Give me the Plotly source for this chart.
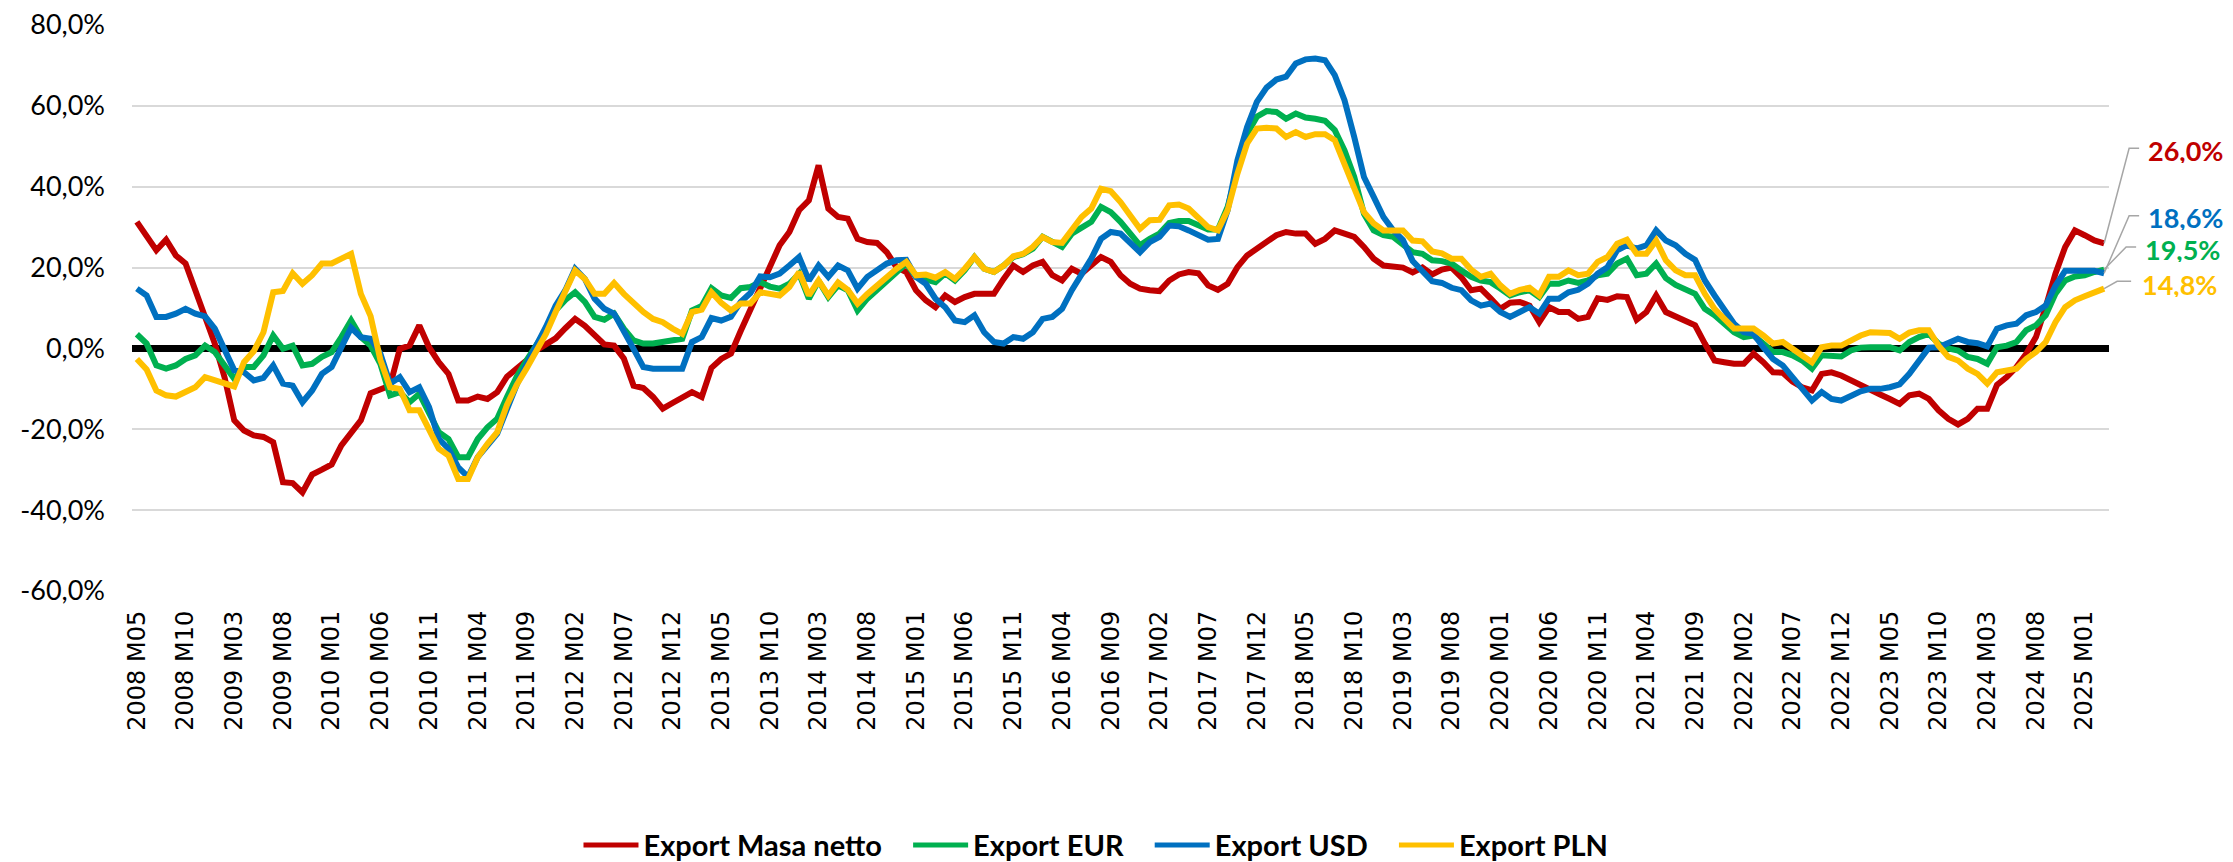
import plotly.graph_objects as go

# ---------------- data ----------------
start_year, start_month, n_points = 2008, 5, 203
categories = [f"{start_year + (start_month - 1 + i) // 12} M{(start_month - 1 + i) % 12 + 1:02d}"
              for i in range(n_points)]

masa_netto = [31.3, 27.8, 24.3, 26.9, 23.0, 21.0, 14.4, 8.2, 1.2, -7.1,
              -17.8, -20.3, -21.5, -21.9, -23.2, -33.1, -33.3, -35.6, -31.2, -30.0,
              -28.7, -24.0, -20.7, -17.8, -11.1, -10.0, -9.2, -0.1, 0.7, 5.7,
              0.3, -3.4, -6.3, -12.9, -12.9, -11.9, -12.5, -10.8, -7.0, -5.0,
              -3.0, -0.5, 1.2, 2.5, 5.0, 7.3, 5.6, 3.2, 1.0, 0.7,
              -2.5, -9.2, -9.8, -12.0, -14.9, -13.5, -12.0, -10.8, -12.0, -4.8,
              -2.6, -1.3, 4.3, 9.5, 14.8, 20.1, 25.5, 28.8, 34.2, 36.6,
              45.3, 34.6, 32.5, 32.1, 27.1, 26.3, 26.1, 23.8, 20.1, 18.9,
              14.4, 11.9, 10.2, 13.1, 11.5, 12.7, 13.5, 13.5, 13.5, 17.2,
              20.5, 18.9, 20.5, 21.4, 18.1, 16.8, 19.7, 18.5, 20.5, 22.6,
              21.4, 18.1, 16.0, 14.8, 14.4, 14.2, 16.8, 18.3, 18.9, 18.6,
              15.6, 14.5, 16.0, 20.1, 23.0, 24.7, 26.7, 28.0, 28.8, 28.4,
              28.4, 25.9, 27.1, 29.2, 28.4, 27.6, 25.1, 22.2, 20.5, 20.1,
              20.0, 18.8, 20.0, 18.3, 19.5, 20.0, 17.6, 14.4, 14.8, 12.4,
              9.8, 11.3, 11.5, 10.6, 6.5, 10.2, 9.0, 9.0, 7.3, 7.8,
              12.4, 12.0, 12.9, 12.7, 7.1, 9.0, 13.1, 9.0, 7.8, 6.5,
              5.7, 1.2, -3.0, -3.4, -3.8, -3.8, -1.3, -3.4, -5.9, -6.0,
              -8.2, -9.6, -10.4, -6.3, -5.9, -6.7, -7.9, -9.4, -10.4, -11.4,
              -12.5, -13.7, -11.6, -11.2, -12.5, -15.3, -17.4, -18.8, -17.4, -14.9,
              -14.9, -9.0, -7.1, -4.6, -1.3, 2.8, 10.2, 18.5, 25.1, 29.2,
              28.0, 26.7, 26.0]

export_eur = [3.5, 1.2, -4.2, -5.0, -4.2, -2.6, -1.7, 0.7, -0.9, -4.2,
              -7.5, -4.6, -4.6, -1.7, 3.2, -0.1, 0.7, -4.2, -3.8, -2.1,
              -0.9, 2.8, 6.9, 2.8, 0.7, -3.8, -11.6, -10.8, -13.3, -11.2,
              -16.2, -20.7, -22.4, -26.9, -26.9, -22.4, -19.5, -17.4, -12.0, -7.0,
              -3.0, 1.0, 4.5, 9.4, 12.0, 13.9, 11.5, 7.8, 7.1, 8.6,
              4.9, 2.0, 1.2, 1.2, 1.6, 2.0, 2.4, 9.4, 10.5, 14.9,
              13.1, 12.5, 14.9, 15.2, 16.4, 15.3, 14.8, 16.0, 18.5, 12.3,
              16.7, 12.7, 15.6, 14.4, 9.4, 12.3, 14.4, 16.4, 18.9, 21.0,
              17.7, 17.2, 16.4, 18.6, 16.8, 19.3, 22.6, 19.7, 18.9, 20.5,
              22.6, 23.3, 24.7, 27.6, 26.3, 25.1, 28.4, 30.0, 31.3, 35.0,
              33.7, 31.3, 28.4, 25.5, 27.1, 28.4, 31.0, 31.5, 31.5, 30.4,
              29.4, 29.4, 35.0, 44.1, 53.1, 57.3, 58.7, 58.5, 56.8, 58.1,
              57.1, 56.8, 56.3, 54.0, 49.0, 42.4, 33.3, 29.2, 28.0, 27.6,
              25.7, 23.8, 23.4, 21.8, 21.6, 21.0, 19.3, 17.7, 16.8, 16.4,
              14.8, 13.1, 13.9, 14.4, 12.7, 16.0, 16.0, 16.8, 16.2, 16.8,
              18.1, 18.5, 21.0, 22.2, 18.1, 18.5, 21.0, 17.4, 15.7, 14.4,
              13.5, 9.8, 8.2, 6.1, 4.0, 2.8, 3.2, 1.2, -0.9, -0.9,
              -1.7, -3.0, -5.0, -1.7, -1.7, -2.0, -0.5, 0.2, 0.3, 0.3,
              0.3, -0.5, 1.6, 2.8, 3.6, 1.2, 0.0, -0.5, -2.1, -2.6,
              -3.8, 0.3, 0.7, 1.6, 4.5, 5.7, 8.2, 13.5, 16.8, 17.8,
              18.1, 18.9, 19.5]

export_usd = [14.8, 13.1, 7.8, 7.8, 8.6, 9.8, 8.6, 7.9, 4.9, -0.7,
              -5.4, -5.9, -7.9, -7.3, -4.2, -8.7, -9.2, -13.3, -10.4, -6.3,
              -4.6, 0.3, 5.1, 2.8, 2.4, -1.3, -8.7, -7.1, -10.8, -9.6,
              -14.5, -22.4, -24.8, -29.4, -31.8, -26.9, -24.0, -21.1, -15.0, -9.0,
              -4.0, 0.3, 5.3, 10.6, 14.4, 19.7, 17.2, 12.3, 9.8, 8.6,
              4.5, -0.1, -4.6, -5.0, -5.0, -5.0, -5.0, 1.6, 2.8, 7.5,
              6.9, 7.8, 11.5, 13.7, 17.8, 17.6, 18.5, 20.5, 22.6, 16.8,
              20.5, 17.7, 20.5, 19.3, 14.8, 17.7, 19.3, 21.0, 21.8, 21.9,
              17.7, 16.0, 12.3, 10.2, 6.9, 6.5, 8.2, 4.0, 1.6, 1.2,
              2.8, 2.4, 4.0, 7.3, 7.8, 9.8, 14.4, 18.1, 22.2, 27.1,
              28.8, 28.4, 25.9, 23.8, 26.3, 27.6, 30.4, 30.2, 29.2, 28.0,
              26.9, 27.1, 34.2, 46.5, 54.8, 61.0, 64.5, 66.5, 67.2, 70.5,
              71.5, 71.7, 71.3, 67.6, 61.4, 52.3, 42.4, 37.5, 32.5, 29.2,
              26.8, 21.6, 19.3, 16.6, 16.2, 15.0, 14.4, 11.9, 10.6, 11.1,
              9.0, 7.8, 9.0, 10.2, 8.6, 12.3, 12.3, 13.9, 14.5, 16.0,
              18.5, 20.1, 24.3, 25.5, 24.7, 25.5, 29.2, 26.7, 25.5, 23.4,
              21.9, 16.8, 13.1, 9.4, 6.1, 4.0, 3.6, 0.3, -2.6, -4.2,
              -7.1, -9.6, -12.9, -10.8, -12.5, -12.9, -11.6, -10.6, -10.0, -10.0,
              -9.6, -8.9, -6.3, -3.0, 0.2, 0.3, 1.3, 2.4, 1.6, 1.3,
              0.5, 4.9, 5.7, 6.1, 8.2, 9.0, 10.6, 15.5, 19.2, 19.2,
              18.9, 19.2, 18.6]

export_pln = [-2.6, -5.2, -10.4, -11.6, -11.9, -10.8, -9.6, -7.1, -7.9, -8.9,
              -9.4, -3.4, -0.7, 4.0, 13.9, 14.2, 18.6, 16.0, 18.1, 21.0,
              21.0, 22.2, 23.4, 13.5, 8.0, -2.8, -9.6, -10.0, -15.3, -15.3,
              -20.3, -24.8, -26.5, -32.3, -32.3, -26.9, -23.6, -20.7, -14.0, -9.0,
              -5.0, -1.0, 3.6, 9.0, 13.9, 19.3, 17.2, 13.5, 13.5, 16.2,
              13.5, 11.1, 9.0, 7.3, 6.5, 4.9, 3.6, 9.0, 9.6, 13.9,
              11.3, 9.4, 11.1, 11.1, 13.9, 13.5, 13.1, 15.2, 18.9, 13.1,
              16.8, 13.1, 16.3, 14.5, 11.1, 13.5, 15.6, 17.7, 19.7, 21.4,
              18.1, 18.3, 17.5, 18.9, 17.2, 19.7, 22.6, 19.7, 18.9, 20.5,
              22.8, 23.4, 25.1, 27.6, 26.3, 26.1, 29.6, 32.5, 34.6, 39.5,
              38.9, 36.2, 32.9, 29.6, 31.7, 31.8, 35.4, 35.6, 34.6, 32.1,
              30.0, 29.2, 34.2, 43.2, 50.7, 54.4, 54.6, 54.4, 52.3, 53.5,
              52.3, 53.0, 53.0, 51.5, 45.7, 39.9, 33.7, 30.9, 29.2, 29.2,
              29.2, 26.7, 26.5, 24.0, 23.5, 22.2, 22.2, 19.5, 17.7, 18.5,
              15.6, 13.5, 14.5, 15.0, 13.1, 17.7, 17.7, 19.3, 18.1, 18.5,
              21.4, 22.6, 25.9, 26.9, 23.4, 23.4, 26.7, 21.8, 19.3, 18.1,
              18.1, 13.5, 9.8, 7.3, 4.9, 4.9, 4.9, 3.2, 1.2, 1.6,
              0.0, -1.7, -3.4, 0.3, 0.7, 0.7, 2.0, 3.2, 4.0, 3.9,
              3.8, 2.4, 3.9, 4.5, 4.5, 0.7, -2.1, -3.0, -5.0, -6.3,
              -8.7, -5.9, -5.4, -5.0, -2.6, -0.9, 1.6, 6.5, 10.2, 11.9,
              12.9, 13.9, 14.8]

series_names = ["Export Masa netto", "Export EUR", "Export USD", "Export PLN"]
series_values = [masa_netto, export_eur, export_usd, export_pln]
series_colors = ["#C00000", "#00B050", "#0070C0", "#FFC000"]

end_label_texts = ["26,0%", "19,5%", "18,6%", "14,8%"]
end_label_y = [49.0, 24.6, 32.6, 16.0]       # label position (value axis units)
end_elbow_y = [49.5, 25.1, 32.8, 16.6]
end_elbow_dx = [25, 22, 25, 13]
end_stub_dx = [35, 32, 35, 27]
end_text_shift = [43, 40, 43, 37]

y_tickvals = [-60, -40, -20, 0, 20, 40, 60, 80]
y_ticktext = [f"{v:.1f}".replace(".", ",") + "%" for v in y_tickvals]
x_tickvals = list(range(0, n_points, 5))
x_ticktext = [categories[i] for i in x_tickvals]

# ---------------- figure ----------------
fig = go.Figure()
x_idx = list(range(n_points))
legend_pad = "\u00a0" * 3
for k, (name, vals, col) in enumerate(zip(series_names, series_values, series_colors)):
    shown = name + (legend_pad if k < len(series_names) - 1 else "")
    fig.add_trace(go.Scatter(x=x_idx, y=vals, name=shown, mode="lines",
                             line=dict(color=col, width=6),
                             hovertext=categories, hoverinfo="text+y"))

last = n_points - 1
x_range = [-0.5, n_points - 0.5]
last_frac = (last - x_range[0]) / (x_range[1] - x_range[0])
for txt, ly, ey, edx, sdx, ts, vals, col in zip(end_label_texts, end_label_y, end_elbow_y,
                                                 end_elbow_dx, end_stub_dx, end_text_shift,
                                                 series_values, series_colors):
    fig.add_shape(type="path", xref="paper", yref="y", xsizemode="pixel", xanchor=last_frac,
                  path=f"M0,{vals[-1]} L{edx},{ey} L{sdx},{ey}",
                  line=dict(color="#A6A6A6", width=1.5))
    fig.add_annotation(x=last, y=ly, xref="x", yref="y", text=f"<b>{txt}</b>",
                       showarrow=False, xanchor="left", yanchor="middle", xshift=ts,
                       height=26, valign="middle", borderpad=0,
                       font=dict(family="Lato", size=27, color=col))

fig.update_layout(
    width=2233, height=862,
    margin=dict(l=132, r=124, t=25, b=271, pad=0, autoexpand=False),
    paper_bgcolor="white", plot_bgcolor="white",
    showlegend=True,
    legend=dict(orientation="h", x=0.4876, xanchor="center", y=-0.449, yanchor="middle",
                font=dict(family="Lato", size=29, color="#000000", weight="bold"),
                itemwidth=55, itemsizing="constant", traceorder="normal",
                bgcolor="rgba(0,0,0,0)", tracegroupgap=0),
    xaxis=dict(range=x_range, tickmode="array", tickvals=x_tickvals,
               ticktext=x_ticktext, tickangle=-90, showgrid=False, zeroline=False,
               showline=False, ticks="", ticklabelstandoff=14,
               tickfont=dict(family="DejaVu Sans", size=24, color="#000000")),
    yaxis=dict(range=[-60, 80], tickmode="array", tickvals=y_tickvals, ticktext=y_ticktext,
               showgrid=True, gridcolor="#D9D9D9", gridwidth=2,
               zeroline=True, zerolinecolor="#000000", zerolinewidth=7,
               showline=False, ticks="", ticklabelstandoff=26,
               tickfont=dict(family="Lato", size=27, color="#000000")),
)

fig.write_html("out.html", config={"displayModeBar": False},
               post_script="document.body.style.margin='0px';document.body.style.overflow='hidden';")
